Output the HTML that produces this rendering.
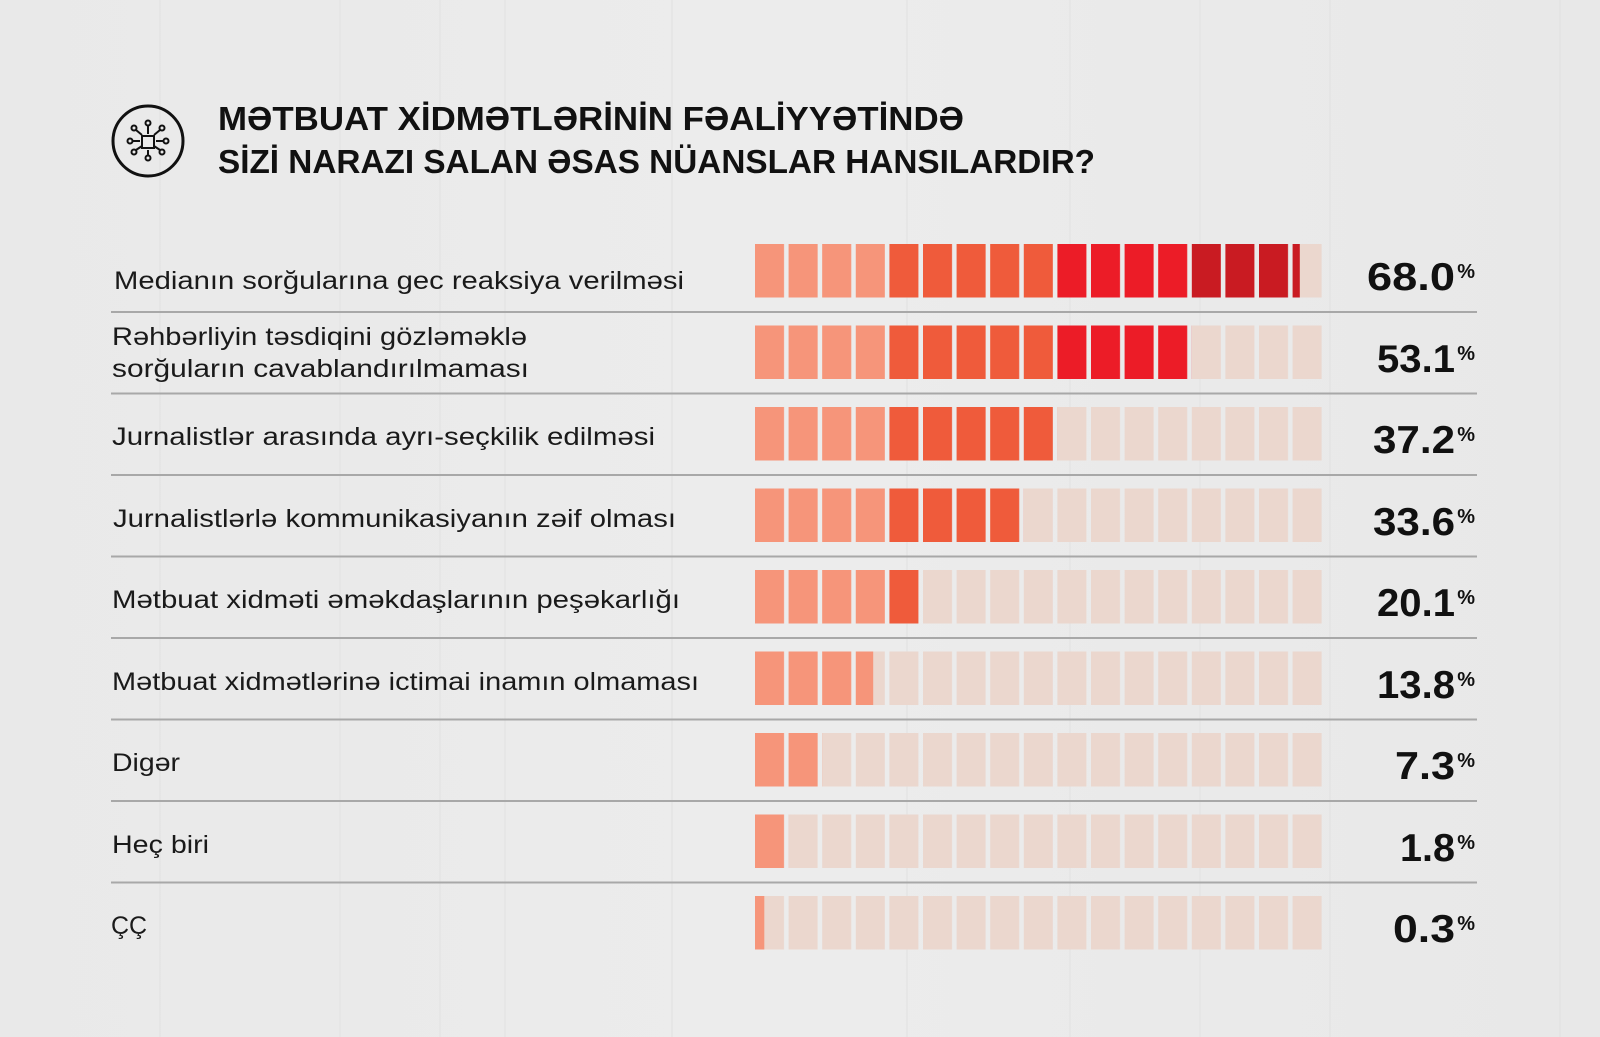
<!DOCTYPE html>
<html><head><meta charset="utf-8"><style>
html,body{margin:0;padding:0;background:#ebebeb}
svg{display:block}
</style></head><body>
<svg width="1600" height="1037" viewBox="0 0 1600 1037" xmlns="http://www.w3.org/2000/svg">
<defs>
<linearGradient id="bg" x1="0" x2="1" y1="0" y2="0">
<stop offset="0" stop-color="#e9e9e9"/><stop offset="0.5" stop-color="#ececec"/><stop offset="1" stop-color="#e8e8e8"/>
</linearGradient>
<pattern id="pE" patternUnits="userSpaceOnUse" x="755" y="0" width="33.6" height="1037"><rect x="0" y="0" width="29" height="1037" fill="#ebd7ce"/></pattern>
<pattern id="pL" patternUnits="userSpaceOnUse" x="755" y="0" width="33.6" height="1037"><rect x="0" y="0" width="29" height="1037" fill="#f6957a"/></pattern>
<pattern id="pO" patternUnits="userSpaceOnUse" x="755" y="0" width="33.6" height="1037"><rect x="0" y="0" width="29" height="1037" fill="#ef5b3b"/></pattern>
<pattern id="pR" patternUnits="userSpaceOnUse" x="755" y="0" width="33.6" height="1037"><rect x="0" y="0" width="29" height="1037" fill="#ec1c27"/></pattern>
<pattern id="pD" patternUnits="userSpaceOnUse" x="755" y="0" width="33.6" height="1037"><rect x="0" y="0" width="29" height="1037" fill="#c91b22"/></pattern>
</defs>
<rect width="1600" height="1037" fill="url(#bg)"/>
<g stroke="#dcdcdc" stroke-width="1" opacity="0.6">
<line x1="160" y1="0" x2="160" y2="1037"/><line x1="340" y1="0" x2="340" y2="1037"/><line x1="440" y1="0" x2="440" y2="1037"/>
<line x1="505" y1="0" x2="505" y2="1037"/><line x1="672" y1="0" x2="672" y2="1037"/><line x1="907" y1="0" x2="907" y2="1037"/>
<line x1="1070" y1="0" x2="1070" y2="1037"/><line x1="1200" y1="0" x2="1200" y2="1037"/><line x1="1330" y1="0" x2="1330" y2="1037"/><line x1="1560" y1="0" x2="1560" y2="1037"/>
</g>
<circle cx="148" cy="141" r="35" fill="none" stroke="#111" stroke-width="3"/>
<g stroke="#111" stroke-width="2" fill="none">
<circle cx="148" cy="123" r="2.5"/><circle cx="134" cy="128" r="2.5"/><circle cx="162" cy="128" r="2.5"/>
<circle cx="130" cy="141" r="2.5"/><circle cx="166" cy="141" r="2.5"/><circle cx="134" cy="152" r="2.5"/>
<circle cx="162" cy="152" r="2.5"/><circle cx="148" cy="158" r="2.5"/>
<path d="M148 126V134M136 130L142 135M160 130L154 135M133 141H140M156 141H163M136 150L142 146M160 150L154 146M148 155V150"/>
<rect x="142" y="136" width="12" height="12"/>
</g>
<g font-family="'Liberation Sans',sans-serif" font-weight="bold" font-size="33" fill="#111">
<text x="218" y="130" textLength="746" lengthAdjust="spacingAndGlyphs">MƏTBUAT XİDMƏTLƏRİNİN FƏALİYYƏTİNDƏ</text>
<text x="218" y="173" textLength="877" lengthAdjust="spacingAndGlyphs">SİZİ NARAZI SALAN ƏSAS NÜANSLAR HANSILARDIR?</text>
</g>
<g stroke="#a8a8a8" stroke-width="2">
<line x1="111" y1="312" x2="1477" y2="312"/><line x1="111" y1="393.5" x2="1477" y2="393.5"/>
<line x1="111" y1="475" x2="1477" y2="475"/><line x1="111" y1="556.5" x2="1477" y2="556.5"/>
<line x1="111" y1="638" x2="1477" y2="638"/><line x1="111" y1="719.5" x2="1477" y2="719.5"/>
<line x1="111" y1="801" x2="1477" y2="801"/><line x1="111" y1="882.5" x2="1477" y2="882.5"/>
</g>
<g>
<rect x="755" y="244" width="571" height="53.5" fill="url(#pE)"/>
<rect x="755" y="325.5" width="571" height="53.5" fill="url(#pE)"/>
<rect x="755" y="407" width="571" height="53.5" fill="url(#pE)"/>
<rect x="755" y="488.5" width="571" height="53.5" fill="url(#pE)"/>
<rect x="755" y="570" width="571" height="53.5" fill="url(#pE)"/>
<rect x="755" y="651.5" width="571" height="53.5" fill="url(#pE)"/>
<rect x="755" y="733" width="571" height="53.5" fill="url(#pE)"/>
<rect x="755" y="814.5" width="571" height="53.5" fill="url(#pE)"/>
<rect x="755" y="896" width="571" height="53.5" fill="url(#pE)"/>

<rect x="755" y="244" width="134.4" height="53.5" fill="url(#pL)"/>
<rect x="889.4" y="244" width="168" height="53.5" fill="url(#pO)"/>
<rect x="1057.4" y="244" width="134.4" height="53.5" fill="url(#pR)"/>
<rect x="1191.8" y="244" width="108" height="53.5" fill="url(#pD)"/>

<rect x="755" y="325.5" width="134.4" height="53.5" fill="url(#pL)"/>
<rect x="889.4" y="325.5" width="168" height="53.5" fill="url(#pO)"/>
<rect x="1057.4" y="325.5" width="134.4" height="53.5" fill="url(#pR)"/>

<rect x="755" y="407" width="134.4" height="53.5" fill="url(#pL)"/>
<rect x="889.4" y="407" width="168" height="53.5" fill="url(#pO)"/>

<rect x="755" y="488.5" width="134.4" height="53.5" fill="url(#pL)"/>
<rect x="889.4" y="488.5" width="134.4" height="53.5" fill="url(#pO)"/>

<rect x="755" y="570" width="134.4" height="53.5" fill="url(#pL)"/>
<rect x="889.4" y="570" width="33.6" height="53.5" fill="url(#pO)"/>

<rect x="755" y="651.5" width="118.2" height="53.5" fill="url(#pL)"/>
<rect x="755" y="733" width="67.2" height="53.5" fill="url(#pL)"/>
<rect x="755" y="814.5" width="33.6" height="53.5" fill="url(#pL)"/>
<rect x="755" y="896" width="9.3" height="53.5" fill="url(#pL)"/>
</g>
<g font-family="'Liberation Sans',sans-serif" font-size="25" fill="#1a1a1a">
<text x="114" y="289" textLength="570" lengthAdjust="spacingAndGlyphs">Medianın sorğularına gec reaksiya verilməsi</text>
<text x="112" y="345" textLength="415" lengthAdjust="spacingAndGlyphs">Rəhbərliyin təsdiqini gözləməklə</text>
<text x="112" y="377" textLength="417" lengthAdjust="spacingAndGlyphs">sorğuların cavablandırılmaması</text>
<text x="112" y="445" textLength="543" lengthAdjust="spacingAndGlyphs">Jurnalistlər arasında ayrı-seçkilik edilməsi</text>
<text x="113" y="527" textLength="563" lengthAdjust="spacingAndGlyphs">Jurnalistlərlə kommunikasiyanın zəif olması</text>
<text x="112" y="608" textLength="568" lengthAdjust="spacingAndGlyphs">Mətbuat xidməti əməkdaşlarının peşəkarlığı</text>
<text x="112" y="690" textLength="587" lengthAdjust="spacingAndGlyphs">Mətbuat xidmətlərinə ictimai inamın olmaması</text>
<text x="112" y="771" textLength="68" lengthAdjust="spacingAndGlyphs">Digər</text>
<text x="112" y="853" textLength="97" lengthAdjust="spacingAndGlyphs">Heç biri</text>
<text x="111" y="934">ÇÇ</text>
</g>
<g font-family="'Liberation Sans',sans-serif" font-weight="bold" fill="#111" text-anchor="end">
<g font-size="39">
<text x="1455" y="290" textLength="88" lengthAdjust="spacingAndGlyphs">68.0</text>
<text x="1455" y="372" textLength="78" lengthAdjust="spacingAndGlyphs">53.1</text>
<text x="1455" y="453" textLength="82" lengthAdjust="spacingAndGlyphs">37.2</text>
<text x="1455" y="535" textLength="82" lengthAdjust="spacingAndGlyphs">33.6</text>
<text x="1455" y="616" textLength="78" lengthAdjust="spacingAndGlyphs">20.1</text>
<text x="1455" y="698" textLength="78" lengthAdjust="spacingAndGlyphs">13.8</text>
<text x="1455" y="779" textLength="60" lengthAdjust="spacingAndGlyphs">7.3</text>
<text x="1455" y="861" textLength="55" lengthAdjust="spacingAndGlyphs">1.8</text>
<text x="1455" y="942" textLength="62" lengthAdjust="spacingAndGlyphs">0.3</text>
</g>
<g font-size="20">
<text x="1475" y="278">%</text><text x="1475" y="360">%</text><text x="1475" y="441">%</text>
<text x="1475" y="523">%</text><text x="1475" y="604">%</text><text x="1475" y="686">%</text>
<text x="1475" y="767">%</text><text x="1475" y="849">%</text><text x="1475" y="930">%</text>
</g>
</g>
</svg>
</body></html>
